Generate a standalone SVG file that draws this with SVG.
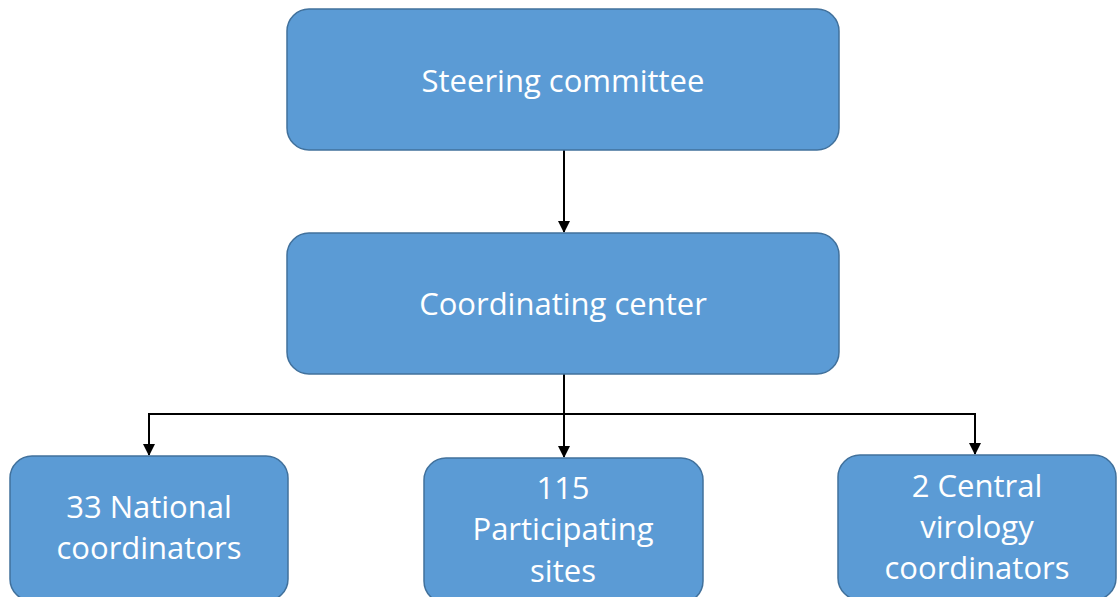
<svg xmlns="http://www.w3.org/2000/svg" width="1118" height="597" viewBox="0 0 1118 597">
<defs>
<style>
.box{fill:#5B9BD5;stroke:#41719C;stroke-width:1.5}
.t{font-family:"Open Sans","Noto Sans",sans-serif;font-size:31px;fill:#FFFFFF;text-anchor:middle}
.c{fill:none;stroke:#000;stroke-width:2}
</style>
<marker id="ah" markerWidth="12" markerHeight="12" refX="11" refY="6" orient="auto" markerUnits="userSpaceOnUse">
<path d="M0,0 L12,6 L0,12 z" fill="#000"/>
</marker>
</defs>
<rect width="1118" height="597" fill="#FFFFFF"/>
<g id="connectors">
<path class="c" d="M564,150 V232" marker-end="url(#ah)"/>
<path class="c" d="M564,374 V457" marker-end="url(#ah)"/>
<path class="c" d="M149,414 H975"/>
<path class="c" d="M149,413 V455" marker-end="url(#ah)"/>
<path class="c" d="M975,413 V454" marker-end="url(#ah)"/>
</g>
<g id="steering">
<rect class="box" x="287" y="9" width="552" height="141" rx="22"/>
<text class="t" x="563" y="92">Steering committee</text>
</g>
<g id="coordinating">
<rect class="box" x="287" y="233" width="552" height="141" rx="22"/>
<text class="t" x="563" y="315">Coordinating center</text>
</g>
<g id="national">
<rect class="box" x="10" y="456" width="278" height="145" rx="22"/>
<text class="t" x="149" y="518">33 National</text>
<text class="t" x="149" y="559">coordinators</text>
</g>
<g id="sites">
<rect class="box" x="424" y="458" width="279" height="145" rx="22"/>
<text class="t" x="563" y="499">115</text>
<text class="t" x="563" y="540">Participating</text>
<text class="t" x="563" y="582">sites</text>
</g>
<g id="virology">
<rect class="box" x="838" y="455" width="278" height="145" rx="22"/>
<text class="t" x="977" y="497">2 Central</text>
<text class="t" x="977" y="538">virology</text>
<text class="t" x="977" y="579">coordinators</text>
</g>
</svg>
